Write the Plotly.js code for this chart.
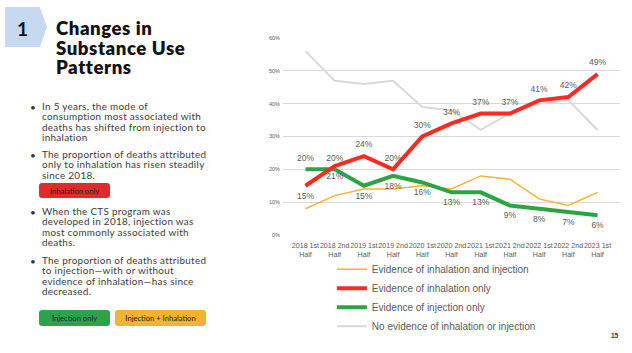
<!DOCTYPE html>
<html>
<head>
<meta charset="utf-8">
<script src="https://cdn.plot.ly/plotly-3.0.1.min.js"></script>
<style>
  html, body { margin: 0; padding: 0; background: #fff; }
  #page { position: relative; width: 632px; height: 353px; overflow: hidden; background: #fff; }
  #chart { position: absolute; left: 0; top: 0; width: 632px; height: 353px; }
  .lt { position: absolute; font-family: Lato, "Open Sans", sans-serif; color: #3a3a3a; }
  #chev { position: absolute; left: 5px; top: 7px; width: 42px; height: 40px; background: #c6d9f1;
          clip-path: polygon(0 0, 83% 0, 100% 50%, 83% 100%, 0 100%); }
  #num { left: 17px; top: 17px; font-size: 19px; font-weight: 700; color: #111; }
  #title { left: 56px; top: 19px; font-size: 18.6px; font-weight: 800; line-height: 19.6px; color: #111; letter-spacing: 0.55px; }
  .bul { font-size: 9.9px; line-height: 10.3px; letter-spacing: 0.3px; }
  .dot { position: absolute; left: 30px; font-size: 10px; color: #333; font-family: Lato, sans-serif; }
  .btn { position: absolute; border-radius: 3px; font-family: Lato, sans-serif; font-size: 7.6px; color: #222;
         display: flex; align-items: center; justify-content: center; }
  #pg { position: absolute; left: 611px; top: 332px; font-family: "Liberation Sans", Arial, sans-serif; font-size: 6.5px; font-weight: 700; color: #333; }
</style>
</head>
<body>
<div id="page">
  <div id="chart"></div>
  <div id="chev"></div>
  <div class="lt" id="num">1</div>
  <div class="lt" id="title">Changes in<br>Substance Use<br>Patterns</div>

  <div class="dot" style="top:101px">•</div>
  <div class="lt bul" style="left:42px; top:101px">In 5 years, the mode of<br>consumption most associated with<br>deaths has shifted from injection to<br>inhalation</div>

  <div class="dot" style="top:149px">•</div>
  <div class="lt bul" style="left:42px; top:149px">The proportion of deaths attributed<br>only to inhalation has risen steadily<br>since 2018.</div>

  <div class="btn" style="left:39px; top:183px; width:71px; height:15px; background:#e5282c;">Inhalation only</div>

  <div class="dot" style="top:206px">•</div>
  <div class="lt bul" style="left:42px; top:206px">When the CTS program was<br>developed in 2018, injection was<br>most commonly associated with<br>deaths.</div>

  <div class="dot" style="top:255px">•</div>
  <div class="lt bul" style="left:42px; top:255px">The proportion of deaths attributed<br>to injection—with or without<br>evidence of inhalation—has since<br>decreased.</div>

  <div class="btn" style="left:39px; top:310px; width:71px; height:16px; background:#2ea24b;">Injection only</div>
  <div class="btn" style="left:115px; top:310px; width:91px; height:16px; background:#f6b233;">Injection + Inhalation</div>

  <div id="pg">15</div>
</div>
<script>
// Data
const categories = [
  "2018 1st<br>Half", "2018 2nd<br>Half", "2019 1st<br>Half", "2019 2nd<br>Half",
  "2020 1st<br>Half", "2020 2nd<br>Half", "2021 1st<br>Half", "2021 2nd<br>Half",
  "2022 1st<br>Half", "2022 2nd<br>Half", "2023 1st<br>Half"
];
const inhalationAndInjection = [0.08, 0.12, 0.14, 0.14, 0.15, 0.14, 0.18, 0.17, 0.11, 0.09, 0.13];
const inhalationOnly        = [0.15, 0.21, 0.24, 0.20, 0.30, 0.34, 0.37, 0.37, 0.41, 0.42, 0.49];
const injectionOnly         = [0.20, 0.20, 0.15, 0.18, 0.16, 0.13, 0.13, 0.09, 0.08, 0.07, 0.06];
const noEvidence            = [0.56, 0.47, 0.46, 0.47, 0.39, 0.38, 0.32, 0.37, 0.40, 0.41, 0.32];
const seriesNames = [
  "Evidence of inhalation and injection",
  "Evidence of inhalation only",
  "Evidence of injection only",
  "No evidence of inhalation or injection"
];
const yTickVals = [0, 0.1, 0.2, 0.3, 0.4, 0.5, 0.6];
const yTickText = ["0%", "10%", "20%", "30%", "40%", "50%", "60%"];

const pct = a => a.map(v => Math.round(v * 100) + "%");
const redPos = ["bottom center", "bottom center"].concat(Array(9).fill("top center"));
const greenPos = ["top center", "top center"].concat(Array(9).fill("bottom center"));
const labelFont = { family: "Liberation Sans, Arial, sans-serif", size: 8.5, color: "#595959" };

const traces = [
  { x: categories, y: noEvidence, name: seriesNames[3], mode: "lines", legendrank: 4,
    line: { color: "#d9d9d9", width: 2 }, hoverinfo: "skip" },
  { x: categories, y: inhalationAndInjection, name: seriesNames[0], mode: "lines", legendrank: 1,
    line: { color: "#f5b335", width: 1.5 }, hoverinfo: "skip" },
  { x: categories, y: injectionOnly, name: seriesNames[2], mode: "lines+markers+text", legendrank: 3,
    marker: { size: 9, color: "rgba(0,0,0,0)" },
    text: pct(injectionOnly), textposition: greenPos, textfont: labelFont,
    line: { color: "#2ca444", width: 4 }, hoverinfo: "skip" },
  { x: categories, y: inhalationOnly, name: seriesNames[1], mode: "lines+markers+text", legendrank: 2,
    marker: { size: 9, color: "rgba(0,0,0,0)" },
    text: pct(inhalationOnly), textposition: redPos, textfont: labelFont,
    line: { color: "#ff2a20", width: 4 }, hoverinfo: "skip" }
];

const layout = {
  width: 632, height: 353,
  margin: { l: 283, r: 12, t: 38, b: 118, autoexpand: false },
  paper_bgcolor: "rgba(0,0,0,0)", plot_bgcolor: "rgba(0,0,0,0)",
  showlegend: true,
  legend: {
    orientation: "v", x: 0.145, xanchor: "left", y: -0.1, yanchor: "top",
    font: { family: "Liberation Sans, Arial, sans-serif", size: 10, color: "#595959" },
    itemwidth: 30, tracegroupgap: 0, bgcolor: "rgba(0,0,0,0)"
  },
  xaxis: {
    type: "category", tickangle: 0, showgrid: false, zeroline: false, showline: false,
    ticks: "", tickfont: { family: "Liberation Sans, Arial, sans-serif", size: 7.1, color: "#595959" },
    ticklabelstandoff: 5, fixedrange: true
  },
  yaxis: {
    range: [0, 0.6], tickvals: yTickVals, ticktext: yTickText,
    showgrid: true, gridcolor: "#d9d9d9", gridwidth: 1, zeroline: false, showline: false,
    tickfont: { family: "Liberation Sans, Arial, sans-serif", size: 5.5, color: "#595959" },
    ticklabelstandoff: 2, fixedrange: true
  }
};

Plotly.newPlot("chart", traces, layout, { displayModeBar: false, staticPlot: true });
</script>
</body>
</html>
